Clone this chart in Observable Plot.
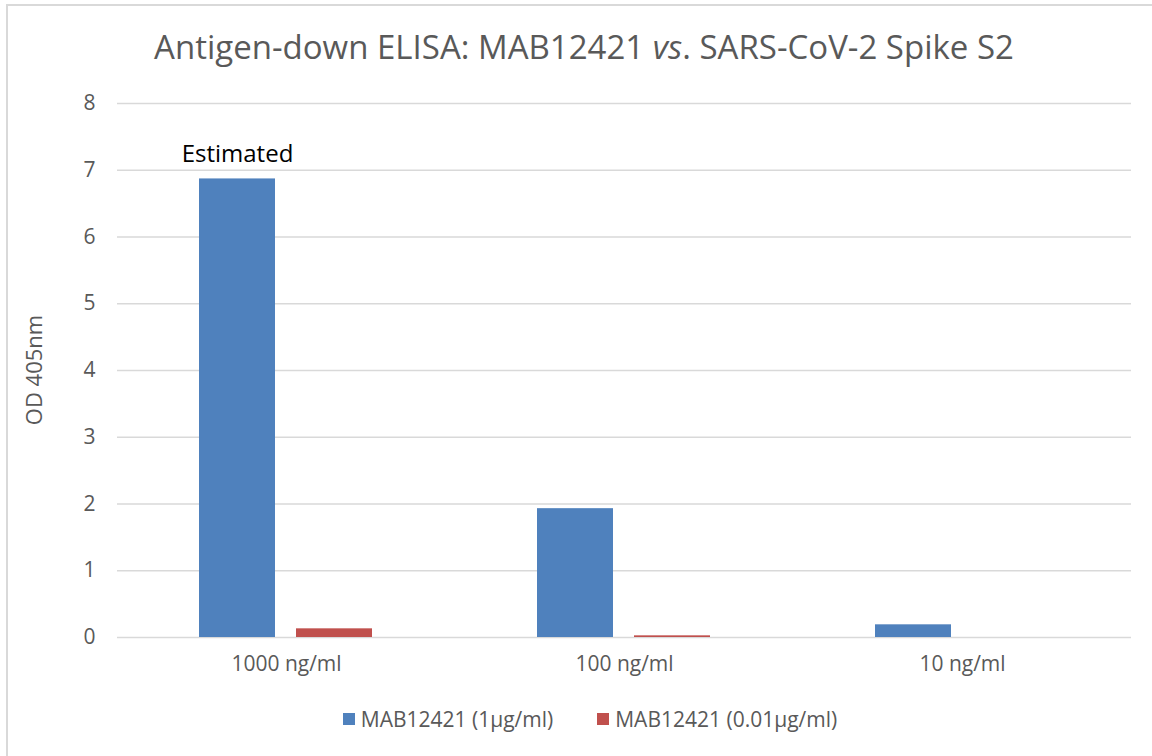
<!DOCTYPE html>
<html>
<head>
<meta charset="utf-8">
<script src="https://cdn.jsdelivr.net/npm/d3@7"></script>
<script src="https://cdn.jsdelivr.net/npm/@observablehq/plot@0.6"></script>
<style>
html, body { margin: 0; padding: 0; background: #fff; }
#wrap { position: relative; width: 1152px; height: 756px; overflow: hidden; font-family: "Open Sans", sans-serif; }
#frame { position: absolute; left: 6px; top: 4px; width: 1200px; height: 800px; border-left: 2px solid #d9d9d9; border-top: 2px solid #d9d9d9; box-sizing: border-box; }
#title { position: absolute; left: 0; width: 1168px; top: 27px; text-align: center; font-size: 33px; line-height: 40px; color: #595959; white-space: nowrap; }
#chart { position: absolute; left: 0; top: 80px; }
#ylabel { position: absolute; left: 33px; top: 370px; transform: translate(-50%, -50%) rotate(-90deg); font-size: 22px; line-height: 26px; color: #595959; white-space: nowrap; }
#legend { position: absolute; left: 0; width: 1180px; top: 705px; display: flex; justify-content: center; font-size: 21px; line-height: 28px; color: #595959; }
.item { display: flex; align-items: center; margin: 0 22px; }
.sw { width: 12px; height: 12px; margin-right: 6px; }
</style>
</head>
<body>
<div id="wrap">
  <div id="frame"></div>
  <div id="title">Antigen-down ELISA: MAB12421 <i>vs</i>. SARS-CoV-2 Spike S2</div>
  <div id="chart"></div>
  <div id="ylabel"></div>
  <div id="legend"></div>
</div>
<script>
// Data
const groups = ["1000 ng/ml", "100 ng/ml", "10 ng/ml"];
const seriesNames = ["MAB12421 (1µg/ml)", "MAB12421 (0.01µg/ml)"];
const seriesColors = ["#4f81bd", "#c0504d"];
const highValues = [6.87, 1.93, 0.19];
const lowValues = [0.13, 0.025, 0];
const yTicks = [0, 1, 2, 3, 4, 5, 6, 7, 8];
const yLabel = "OD 405nm";
const noteGroups = ["1000 ng/ml"];
const noteSeries = ["MAB12421 (1µg/ml)"];
const noteTexts = ["Estimated"];

const data = groups.flatMap((g, i) => [
  {group: g, series: seriesNames[0], value: highValues[i]},
  {group: g, series: seriesNames[1], value: lowValues[i]}
]);
const notes = noteTexts.map((t, i) => {
  const gi = groups.indexOf(noteGroups[i]);
  const si = seriesNames.indexOf(noteSeries[i]);
  return {group: noteGroups[i], series: noteSeries[i], value: [highValues, lowValues][si][gi], label: t};
});

const chart = Plot.plot({
  width: 1152,
  height: 620,
  marginLeft: 117,
  marginRight: 21,
  marginTop: 23,
  marginBottom: 63,
  style: {fontFamily: "Open Sans, sans-serif", fontSize: "21px", color: "#595959", background: "transparent", overflow: "visible"},
  fx: {domain: groups, padding: 0, label: null, axis: "bottom", tickSize: 0, tickPadding: 19},
  x: {domain: seriesNames, axis: null, paddingInner: 0.216, paddingOuter: 0.845},
  y: {domain: [0, 8], ticks: yTicks, tickFormat: d3.format("d"), label: null, tickSize: 0, tickPadding: 22},
  color: {domain: seriesNames, range: seriesColors},
  marks: [
    Plot.ruleY(yTicks, {stroke: "#d9d9d9", strokeWidth: 1.5}),
    Plot.barY(data, {fx: "group", x: "series", y: "value", fill: "series"}),
    Plot.text(notes, {fx: "group", x: "series", y: "value", text: "label", lineAnchor: "bottom", dy: -17, fill: "black", fontSize: 24})
  ]
});
document.getElementById("chart").appendChild(chart);
document.getElementById("ylabel").textContent = yLabel;

const legend = document.getElementById("legend");
seriesNames.forEach((name, i) => {
  const item = document.createElement("div");
  item.className = "item";
  const sw = document.createElement("span");
  sw.className = "sw";
  sw.style.background = seriesColors[i];
  const tx = document.createElement("span");
  tx.textContent = name;
  item.appendChild(sw);
  item.appendChild(tx);
  legend.appendChild(item);
});
</script>
</body>
</html>
